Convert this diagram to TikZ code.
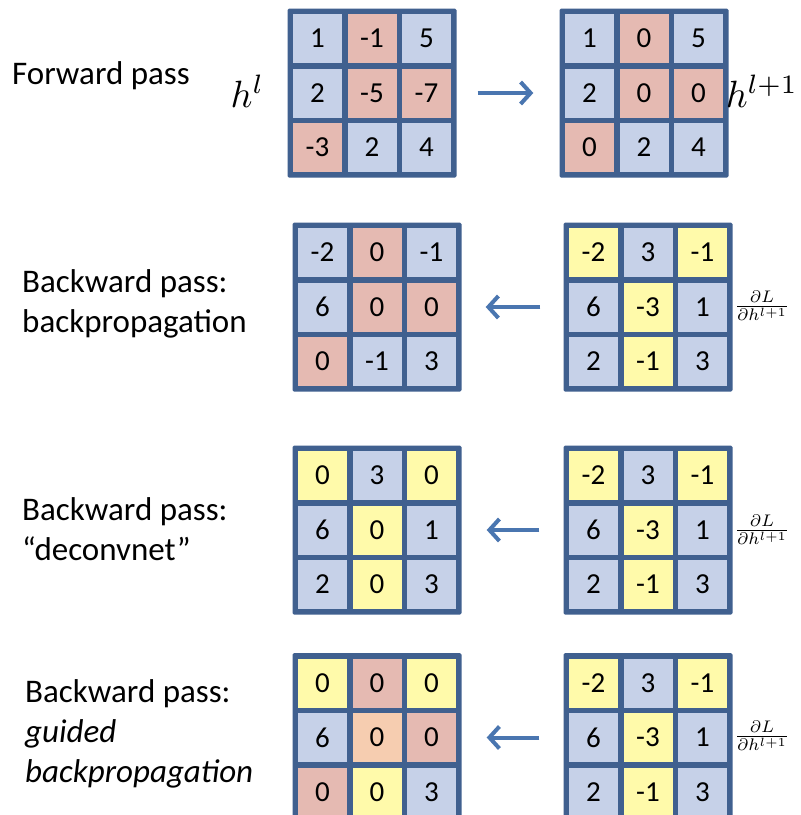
\documentclass[tikz,border=0pt]{standalone}
\usepackage{fontspec}
\setmainfont{Carlito}
\usetikzlibrary{arrows.meta}

\definecolor{framecol}{HTML}{40608F}
\definecolor{cb}{HTML}{C6D1E8}
\definecolor{cr}{HTML}{E5BAB2}
\definecolor{cy}{HTML}{FFFAAA}
\definecolor{co}{HTML}{F6CDB0}
\definecolor{arrowcol}{HTML}{4A76B0}

\tikzset{
  gridframe/.style={fill=framecol, minimum size=169pt, inner sep=0pt, rounded corners=1.5pt},
  cellbox/.style={minimum size=49pt, inner sep=0pt, font=\fontsize{29}{29}\selectfont},
  arr/.style={draw=arrowcol, line width=4pt, -{Straight Barb[length=10pt,width=22pt]}},
  passlabel/.style={font=\fontsize{33}{40}\selectfont, align=left, anchor=base west, inner sep=0pt},
  mathlabel/.style={inner sep=0pt, scale=3.8},
  gradlabel/.style={inner sep=0pt, scale=2.4},
}

% a 3x3 grid of coloured cells: name, centre, nine entries value/colour
\newcommand\mkgrid[3]{%
  \node[gridframe] (#1) at (#2) {};
  \foreach \v/\c [count=\i from 0] in {#3} {
    \pgfmathsetmacro\cdx{(mod(\i,3)-1)*54.5}
    \pgfmathsetmacro\cdy{(1-int(\i/3))*54.5}
    \node[cellbox, fill=\c] (#1-\i) at ([xshift=\cdx pt, yshift=\cdy pt]#1.center) {\v};
  }%
}

\begin{document}
\begin{tikzpicture}[x=1pt, y=-1pt]
\clip (0,0) rectangle (801,815);
\fill[white] (0,0) rectangle (801,815);

% forward pass
\mkgrid{gfl}{372,93}{1/cb,-1/cr,5/cb,2/cb,-5/cr,-7/cr,-3/cr,2/cb,4/cb}
\mkgrid{gfr}{644,93}{1/cb,0/cr,5/cb,2/cb,0/cr,0/cr,0/cr,2/cb,4/cb}
\draw[arr, shorten <=21pt, shorten >=26pt] (gfl) -- (gfr);
\node[passlabel] (lf) at (12,84) {Forward pass};
\node[mathlabel, anchor=base east] (hl) at (265,107) {$h^l$};
\node[mathlabel, anchor=base west] (hl1) at (725,107) {$h^{l+1}$};

% backpropagation
\mkgrid{gbl}{377,307}{-2/cb,0/cr,-1/cb,6/cb,0/cr,0/cr,0/cr,-1/cb,3/cb}
\mkgrid{gbr}{648,307}{-2/cy,3/cb,-1/cy,6/cb,-3/cy,1/cb,2/cb,-1/cy,3/cb}
\draw[arr, shorten <=23pt, shorten >=24pt] (gbr) -- (gbl);
\node[passlabel] (lb) at (22,332) {Backward pass:\\backpropagation};
\node[gradlabel] (db) at (762,306) {$\frac{\partial L}{\partial h^{l+1}}$};

% deconvnet
\mkgrid{gdl}{377,530}{0/cy,3/cb,0/cy,6/cb,0/cy,1/cb,2/cb,0/cy,3/cb}
\mkgrid{gdr}{648,530}{-2/cy,3/cb,-1/cy,6/cb,-3/cy,1/cb,2/cb,-1/cy,3/cb}
\draw[arr, shorten <=24pt, shorten >=25pt] (gdr) -- (gdl);
\node[passlabel] (ld) at (22,560) {Backward pass:\\“deconvnet”};
\node[gradlabel] (dd) at (762,530) {$\frac{\partial L}{\partial h^{l+1}}$};

% guided backpropagation
\mkgrid{ggl}{377,737.5}{0/cy,0/cr,0/cy,6/cb,0/co,0/cr,0/cr,0/cy,3/cb}
\mkgrid{ggr}{648,737.5}{-2/cy,3/cb,-1/cy,6/cb,-3/cy,1/cb,2/cb,-1/cy,3/cb}
\draw[arr, shorten <=24pt, shorten >=25pt] (ggr) -- (ggl);
\node[passlabel] (lg) at (25,782) {Backward pass:\\\textit{guided}\\\textit{backpropagation}};
\node[gradlabel] (dg) at (762,736) {$\frac{\partial L}{\partial h^{l+1}}$};
\end{tikzpicture}
\end{document}
